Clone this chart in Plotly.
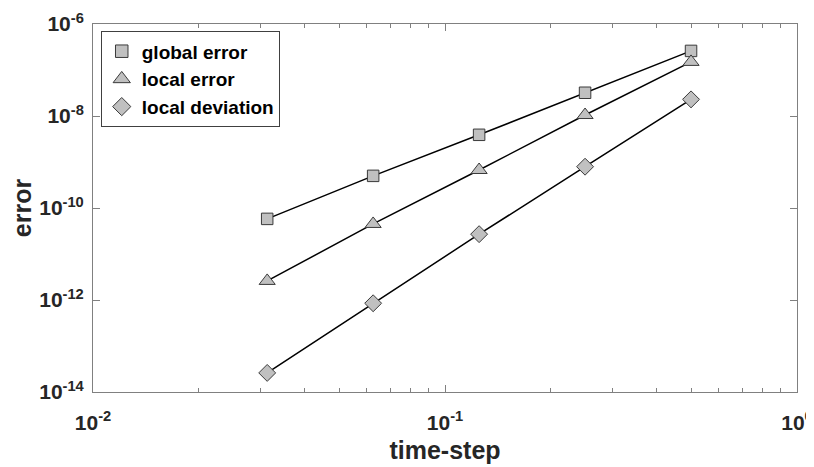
import plotly.graph_objects as go

timestep = [0.03125, 0.0625, 0.125, 0.25, 0.5]
global_error = [5.8e-11, 5.0e-10, 3.9e-9, 3.2e-8, 2.6e-7]
local_error = [2.6e-12, 4.5e-11, 6.7e-10, 1.05e-8, 1.5e-7]
local_deviation = [2.6e-14, 8.5e-13, 2.7e-11, 7.9e-10, 2.3e-8]

x_tickvals = [0.01, 0.1, 1]
x_ticktext = ["10<sup>-2</sup>", "10<sup>-1</sup>", "10<sup>0</sup>"]
x_minor = [0.02, 0.03, 0.04, 0.05, 0.06, 0.07, 0.08, 0.09,
           0.2, 0.3, 0.4, 0.5, 0.6, 0.7, 0.8, 0.9]
y_tickvals = [1e-14, 1e-12, 1e-10, 1e-8, 1e-6]
y_ticktext = ["10<sup>-14</sup>", "10<sup>-12</sup>", "10<sup>-10</sup>",
              "10<sup>-8</sup>", "10<sup>-6</sup>"]

FILL = "#c0c0c0"
EDGE = "#3a3a3a"
FONT = "Liberation Sans"
TXT = "#262626"

fig = go.Figure()
series = [
    ("global error", global_error, "square", 11.5),
    ("local error", local_error, "triangle-up", 14),
    ("local deviation", local_deviation, "diamond", 13),
]
for name, vals, sym, size in series:
    fig.add_trace(go.Scatter(
        x=timestep, y=vals, name=name, mode="lines+markers",
        line=dict(color="black", width=1.5),
        marker=dict(symbol=sym, size=size, color=FILL,
                    line=dict(color=EDGE, width=1)),
        showlegend=False,
    ))
# legend entries: marker only (as in the reference legend)
for name, vals, sym, size in series:
    fig.add_trace(go.Scatter(
        x=[None], y=[None], name=name, mode="markers",
        marker=dict(symbol=sym, size=size + 1, color=FILL,
                    line=dict(color=EDGE, width=1)),
        showlegend=True,
    ))

axis_common = dict(
    type="log", showgrid=False, zeroline=False, automargin=False,
    showline=True, linecolor="#808080", linewidth=1, mirror="ticks",
    ticks="inside", tickcolor="#808080", ticklen=7,
    tickfont=dict(family=FONT, size=21, color=TXT, weight="bold"),
)

fig.update_xaxes(
    **axis_common,
    range=[-2, 0],
    tickmode="array", tickvals=x_tickvals, ticktext=x_ticktext,
    ticklabelstandoff=12,
    minor=dict(tickmode="array", tickvals=x_minor, ticks="inside",
               ticklen=4, tickcolor="#808080", showgrid=False),
    title=dict(text="<b>time-step</b>",
               font=dict(family=FONT, size=25, color=TXT), standoff=8),
)
fig.update_yaxes(
    **axis_common,
    range=[-14, -6],
    tickmode="array", tickvals=y_tickvals, ticktext=y_ticktext,
    ticklabelstandoff=4,
    title=dict(text="<b>error</b>",
               font=dict(family=FONT, size=25, color=TXT), standoff=6),
)

# the page body adds an 8 px offset, so the figure is 8 px smaller
fig.update_layout(
    width=806, height=459,
    margin=dict(l=85, r=17, t=16, b=75),
    paper_bgcolor="white", plot_bgcolor="white",
    font=dict(family=FONT, size=20, color="black"),
    legend=dict(
        x=0.011, y=0.98, xanchor="left", yanchor="top",
        bgcolor="white", bordercolor="#404040", borderwidth=1,
        font=dict(family=FONT, size=19, color="black", weight="bold"),
        tracegroupgap=0, itemsizing="trace", itemwidth=30,
    ),
    showlegend=True,
)

fig.write_html("out.html")
